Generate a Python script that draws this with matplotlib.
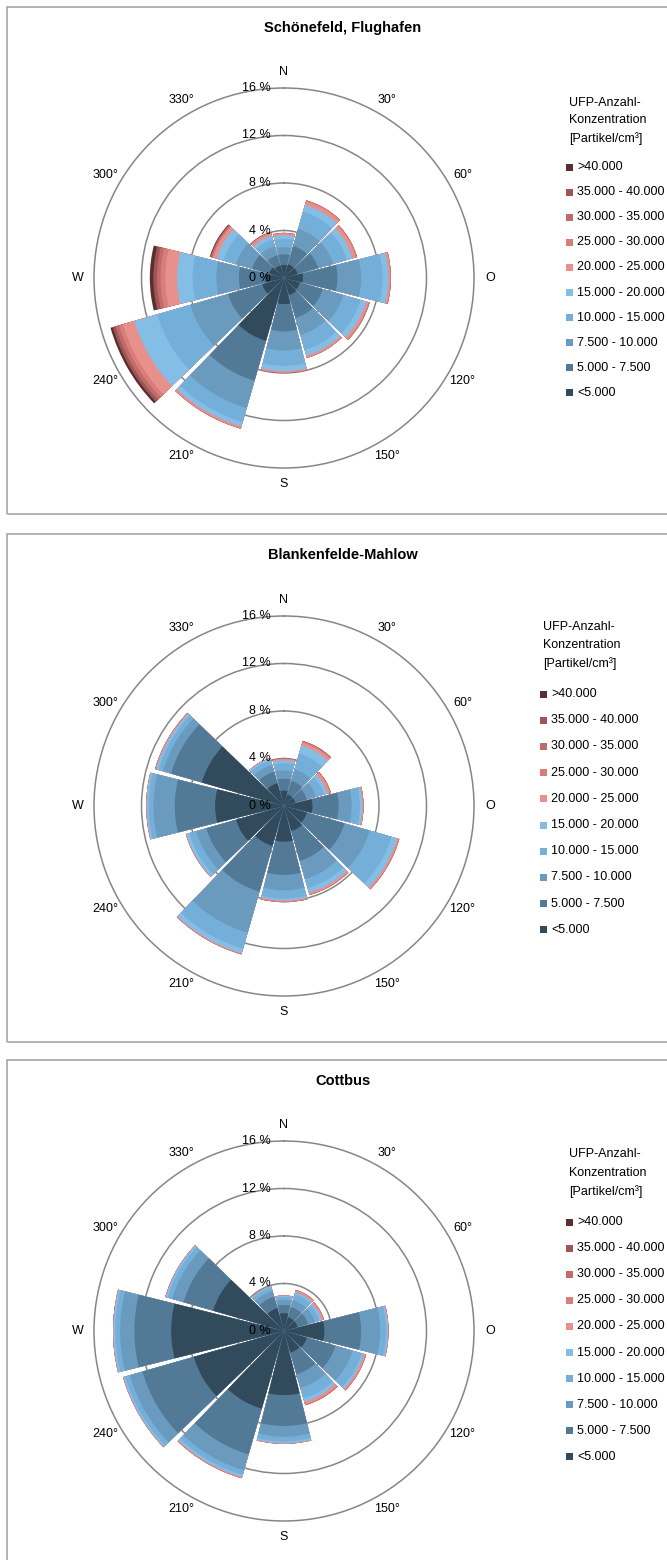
import numpy as np
import matplotlib
matplotlib.use("Agg")
import matplotlib.pyplot as plt
from matplotlib.patches import Rectangle
from matplotlib import font_manager

names = {f.name for f in font_manager.fontManager.ttflist}
narrow = "Liberation Sans Narrow" if "Liberation Sans Narrow" in names else "Liberation Sans"
plt.rcParams['font.family'] = [narrow, 'DejaVu Sans']

# ---------------- data ----------------
directions = [0, 30, 60, 90, 120, 150, 180, 210, 240, 270, 300, 330]
dir_labels = ["N", "30°", "60°", "O", "120°", "150°", "S", "210°", "240°", "W", "300°", "330°"]
classes = ["<5.000", "5.000 - 7.500", "7.500 - 10.000", "10.000 - 15.000", "15.000 - 20.000",
           "20.000 - 25.000", "25.000 - 30.000", "30.000 - 35.000", "35.000 - 40.000", ">40.000"]
class_colors = ["#314A5C", "#527A97", "#6A9BBF", "#74AFD9", "#84BDE6",
                "#E8908C", "#D97D7A", "#C06B6A", "#9E5655", "#5B2E31"]
r_ticks = [0, 4, 8, 12, 16]
r_tick_labels = ["0 %", "4 %", "8 %", "12 %", "16 %"]
legend_title = "UFP-Anzahl-\nKonzentration\n[Partikel/cm³]"

# frequencies (%) per direction (rows) and concentration class (columns, low -> high)
schoenefeld = [
    [1.1, 0.9, 0.6, 0.7, 0.3, 0.15, 0.05, 0, 0, 0],
    [1.2, 1.6, 1.5, 1.5, 0.6, 0.3, 0.1, 0, 0, 0],
    [1.2, 1.8, 1.3, 1.2, 0.5, 0.3, 0.1, 0, 0, 0],
    [1.6, 2.9, 2.0, 1.8, 0.5, 0.15, 0.05, 0, 0, 0],
    [1.4, 2.0, 1.8, 1.5, 0.5, 0.2, 0.1, 0, 0, 0],
    [1.5, 2.0, 1.5, 1.3, 0.5, 0.15, 0.05, 0, 0, 0],
    [2.2, 2.3, 1.6, 1.3, 0.45, 0.1, 0.05, 0, 0, 0],
    [5.5, 3.5, 2.4, 1.2, 0.4, 0.15, 0.05, 0, 0, 0],
    [1.9, 3.0, 3.3, 2.9, 2.0, 1.0, 0.35, 0.3, 0.25, 0.2],
    [1.6, 2.2, 1.9, 2.0, 1.3, 1.0, 0.4, 0.3, 0.3, 0.3],
    [1.3, 1.5, 1.4, 1.1, 0.6, 0.3, 0.1, 0.1, 0.05, 0.05],
    [1.1, 0.9, 0.8, 0.6, 0.3, 0.2, 0.1, 0, 0, 0],
]
blankenfelde = [
    [1.3, 1.0, 0.7, 0.6, 0.25, 0.1, 0.05, 0, 0, 0],
    [1.0, 1.2, 1.0, 1.4, 0.7, 0.25, 0.1, 0.05, 0, 0],
    [1.0, 1.0, 0.8, 0.7, 0.3, 0.2, 0.1, 0, 0, 0],
    [2.4, 2.2, 1.1, 0.7, 0.2, 0.08, 0.02, 0, 0, 0],
    [2.0, 3.3, 2.2, 1.9, 0.5, 0.15, 0.05, 0, 0, 0],
    [2.2, 2.6, 1.6, 0.8, 0.4, 0.15, 0.05, 0, 0, 0],
    [3.0, 2.8, 1.3, 0.7, 0.15, 0.1, 0.05, 0, 0, 0],
    [3.5, 4.0, 3.6, 1.4, 0.4, 0.07, 0.03, 0, 0, 0],
    [4.2, 2.6, 0.9, 0.6, 0.25, 0.04, 0.01, 0, 0, 0],
    [5.8, 3.4, 1.8, 0.4, 0.15, 0.04, 0.01, 0, 0, 0],
    [7.2, 2.7, 0.7, 0.4, 0.2, 0.07, 0.03, 0, 0, 0],
    [2.0, 1.0, 0.6, 0.4, 0.15, 0.04, 0.01, 0, 0, 0],
]
cottbus = [
    [1.5, 0.7, 0.4, 0.25, 0.1, 0.05, 0, 0, 0, 0],
    [1.2, 0.9, 0.6, 0.5, 0.2, 0.15, 0.05, 0, 0, 0],
    [1.2, 0.9, 0.6, 0.4, 0.2, 0.15, 0.05, 0, 0, 0],
    [3.4, 3.1, 1.6, 0.5, 0.15, 0.04, 0.01, 0, 0, 0],
    [2.0, 2.5, 1.5, 0.8, 0.2, 0.15, 0.05, 0, 0, 0],
    [1.9, 1.9, 1.2, 0.9, 0.3, 0.2, 0.1, 0, 0, 0],
    [5.4, 2.6, 0.9, 0.4, 0.15, 0.04, 0.01, 0, 0, 0],
    [6.8, 4.0, 1.4, 0.4, 0.2, 0.07, 0.03, 0, 0, 0],
    [7.9, 4.5, 1.1, 0.4, 0.15, 0.04, 0.01, 0, 0, 0],
    [9.5, 3.1, 1.2, 0.4, 0.15, 0.04, 0.01, 0, 0, 0],
    [6.2, 2.6, 1.0, 0.4, 0.15, 0.04, 0.01, 0, 0, 0],
    [2.0, 1.0, 0.5, 0.3, 0.1, 0, 0, 0, 0, 0],
]
stations = ["Schönefeld, Flughafen", "Blankenfelde-Mahlow", "Cottbus"]
station_data = [schoenefeld, blankenfelde, cottbus]

# ---------------- layout (pixels) ----------------
W, H = 667, 1560
fig = plt.figure(figsize=(W / 100, H / 100), dpi=100)

def fx(x):
    return x / W

def fy(y):
    return 1 - y / H

panel_tops = [7, 534, 1060]
panel_bottoms = [514, 1042, 1575]
centers_y = [278, 806, 1331]
center_x = 284
R = 190
legend_x = [566, 540, 566]
legend_title_y = [[103, 120, 139], [627, 645, 664], [1154, 1173, 1192]]
legend_entry_y0 = [167, 694, 1222]
legend_step = [25.1, 26.2, 26.1]

FS = 10.4 if narrow != "Liberation Sans" else 9.0
TFS = 12.5 if narrow != "Liberation Sans" else 10.5
frame_color = "#A6A6A6"
grid_color = "#868686"

for p in range(3):
    top, bot, cy = panel_tops[p], panel_bottoms[p], centers_y[p]
    # panel frame
    fig.patches.append(Rectangle((fx(7), fy(bot)), fx(680 - 7), (bot - top) / H,
                                 transform=fig.transFigure, fill=False,
                                 edgecolor=frame_color, linewidth=1.2))
    # title
    fig.text(fx(343), fy(top + 21), stations[p], ha="center", va="center",
             fontsize=TFS, fontweight="bold", color="#000000")

    ax = fig.add_axes([fx(center_x - R), fy(cy + R), 2 * R / W, 2 * R / H],
                      projection="polar")
    ax.set_theta_zero_location("N")
    ax.set_theta_direction(-1)
    ax.set_ylim(0, 16)
    ax.set_yticks([4, 8, 12])
    ax.set_yticklabels([])
    ax.set_xticks([])
    ax.grid(True, color=grid_color, linewidth=1.1)
    ax.spines["polar"].set_color(grid_color)
    ax.spines["polar"].set_linewidth(1.1)
    ax.set_axisbelow(True)
    ax.patch.set_alpha(0)

    data = np.array(station_data[p], dtype=float)
    theta = np.deg2rad(directions)
    width = np.deg2rad(28)
    cum = np.cumsum(data, axis=1)
    # stacked classes: draw cumulative totals from the outside in, so layers join seamlessly
    for k in range(len(classes) - 1, -1, -1):
        ax.bar(theta, cum[:, k], width=width, bottom=0, color=class_colors[k],
               edgecolor="none", linewidth=0, align="center", zorder=2 + (10 - k) * 0.01)

    # radial labels
    for rv, lab in zip(r_ticks, r_tick_labels):
        ax.annotate(lab, xy=(0, rv), xytext=(-13, 0), textcoords="offset pixels",
                    ha="right", va="center", fontsize=FS, color="#000000",
                    zorder=5, annotation_clip=False)
    # direction labels
    for d, lab in zip(directions, dir_labels):
        ax.text(np.deg2rad(d), 16 * 206 / R, lab, ha="center", va="center",
                fontsize=FS, color="#000000", clip_on=False)

    # legend
    lx = legend_x[p]
    for line, yy in zip(legend_title.split("\n"), legend_title_y[p]):
        fig.text(fx(lx + 3), fy(yy), line, ha="left", va="center", fontsize=FS)
    for i, k in enumerate(range(len(classes) - 1, -1, -1)):
        yy = legend_entry_y0[p] + i * legend_step[p]
        fig.patches.append(Rectangle((fx(lx), fy(yy + 3.5)), 7 / W, 7 / H,
                                     transform=fig.transFigure,
                                     facecolor=class_colors[k], edgecolor="none"))
        fig.text(fx(lx + 11), fy(yy), classes[k], ha="left", va="center", fontsize=FS)

fig.savefig("out.png", dpi=100, facecolor="white")
